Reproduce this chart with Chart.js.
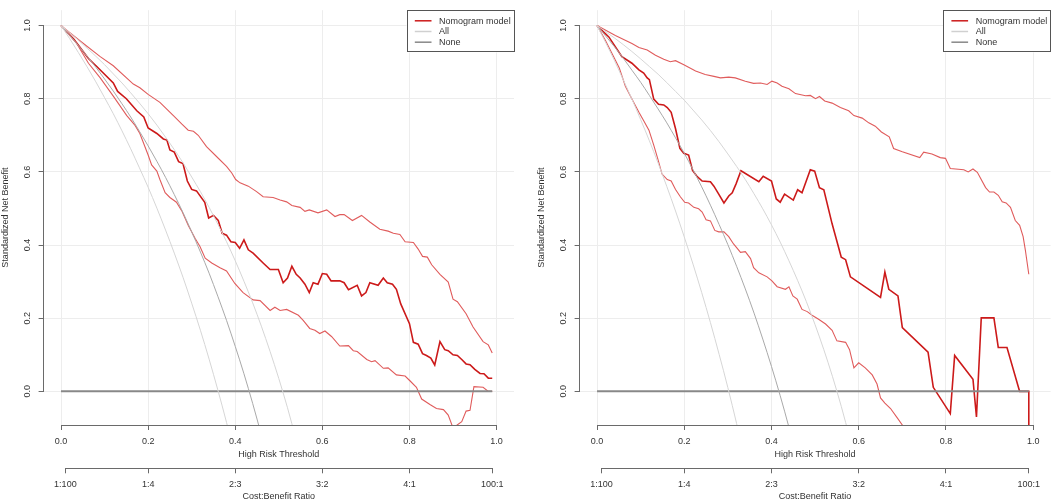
<!DOCTYPE html>
<html>
<head>
<meta charset="utf-8">
<script src="https://cdn.jsdelivr.net/npm/chart.js@4.4.1/dist/chart.umd.min.js"></script>
<style>
  html, body { margin: 0; padding: 0; background: #ffffff; }
  #wrap { position: relative; width: 1052px; height: 502px; overflow: hidden; }
  .panel { position: absolute; top: 0; width: 526px; height: 502px; }
</style>
</head>
<body>
<div id="wrap">
  <div class="panel" style="left:0"><canvas id="cLeft" width="526" height="502"></canvas></div>
  <div class="panel" style="left:526px"><canvas id="cRight" width="526" height="502"></canvas></div>
</div>
<script>
// ---------- tick labels / categories ----------
const thresholdTicks = [0, 0.2, 0.4, 0.6, 0.8, 1.0];
const netBenefitTicks = [0, 0.2, 0.4, 0.6, 0.8, 1.0];
const costBenefitPositions = [0.01, 0.2, 0.4, 0.6, 0.8, 0.99];
const costBenefitLabels = ['1:100', '1:4', '2:3', '3:2', '4:1', '100:1'];
const seriesNames = ['Nomogram model', 'All', 'None'];

// ---------- "All" curves (thresholds shared) ----------
const allThresholds = [0, 0.02, 0.04, 0.06, 0.08, 0.10, 0.12, 0.14, 0.16, 0.18, 0.20, 0.22, 0.24, 0.26, 0.28,
  0.30, 0.32, 0.34, 0.36, 0.38, 0.40, 0.42, 0.44, 0.46, 0.48, 0.50, 0.52, 0.54, 0.56, 0.58];

const leftAll     = [1, 0.973, 0.945, 0.916, 0.886, 0.854, 0.821, 0.786, 0.750, 0.711, 0.671, 0.629, 0.585, 0.538, 0.489,
  0.436, 0.381, 0.323, 0.260, 0.194, 0.123, 0.048, -0.033, -0.120, -0.214];
const leftAllLow  = [1, 0.964, 0.926, 0.887, 0.846, 0.803, 0.759, 0.712, 0.663, 0.611, 0.558, 0.501, 0.441, 0.378, 0.312,
  0.241, 0.167, 0.088, 0.004, -0.085, -0.180];
const leftAllHigh = [1, 0.980, 0.960, 0.938, 0.916, 0.893, 0.868, 0.843, 0.816, 0.788, 0.759, 0.728, 0.695, 0.661, 0.625,
  0.586, 0.546, 0.503, 0.457, 0.409, 0.357, 0.301, 0.242, 0.178, 0.109, 0.035, -0.045, -0.133];

const rightAll     = [1, 0.971, 0.942, 0.911, 0.878, 0.845, 0.809, 0.772, 0.734, 0.693, 0.651, 0.606, 0.559, 0.509, 0.456,
  0.401, 0.342, 0.280, 0.214, 0.143, 0.068, -0.012, -0.098, -0.191];
const rightAllLow  = [1, 0.953, 0.904, 0.852, 0.799, 0.743, 0.685, 0.624, 0.560, 0.493, 0.422, 0.348, 0.270, 0.188, 0.101,
  0.010, -0.088, -0.191];
const rightAllHigh = [1, 0.983, 0.966, 0.948, 0.929, 0.909, 0.888, 0.867, 0.844, 0.820, 0.796, 0.769, 0.742, 0.713, 0.682,
  0.649, 0.615, 0.579, 0.540, 0.499, 0.455, 0.408, 0.357, 0.303, 0.245, 0.182, 0.114, 0.040, -0.041, -0.130];

// ---------- "None" ----------
const noneCurve = [[0, 0], [0.99, 0]];

// ---------- Nomogram model curves: [threshold, standardized net benefit] ----------
const leftModel = [[0,1],[0.03,0.962],[0.063,0.91],[0.082,0.888],[0.12,0.843],[0.13,0.82],[0.15,0.80],[0.174,0.767],
  [0.19,0.75],[0.2,0.72],[0.22,0.705],[0.235,0.69],[0.243,0.687],[0.25,0.66],[0.26,0.654],[0.27,0.628],[0.28,0.623],
  [0.29,0.575],[0.30,0.552],[0.311,0.548],[0.33,0.517],[0.339,0.474],[0.35,0.481],[0.361,0.467],[0.37,0.432],
  [0.38,0.427],[0.39,0.409],[0.40,0.407],[0.41,0.391],[0.42,0.414],[0.43,0.387],[0.441,0.378],[0.464,0.351],
  [0.48,0.333],[0.499,0.333],[0.51,0.297],[0.52,0.31],[0.53,0.342],[0.54,0.32],[0.549,0.31],[0.56,0.293],[0.57,0.27],
  [0.579,0.297],[0.59,0.293],[0.60,0.322],[0.61,0.32],[0.62,0.302],[0.64,0.302],[0.65,0.297],[0.66,0.278],[0.68,0.29],
  [0.69,0.261],[0.70,0.27],[0.709,0.297],[0.728,0.29],[0.74,0.31],[0.749,0.297],[0.761,0.293],[0.77,0.279],
  [0.78,0.239],[0.80,0.185],[0.809,0.134],[0.82,0.129],[0.83,0.103],[0.839,0.098],[0.849,0.091],[0.858,0.072],
  [0.87,0.136],[0.881,0.114],[0.889,0.111],[0.90,0.10],[0.91,0.098],[0.92,0.087],[0.93,0.075],[0.939,0.073],
  [0.95,0.06],[0.962,0.049],[0.971,0.048],[0.981,0.036],[0.99,0.036]];
const leftModelHigh = [[0,1],[0.047,0.955],[0.09,0.915],[0.12,0.89],[0.166,0.84],[0.181,0.83],[0.2,0.812],[0.227,0.79],
  [0.258,0.754],[0.277,0.731],[0.292,0.714],[0.304,0.711],[0.315,0.70],[0.334,0.669],[0.357,0.642],[0.38,0.615],
  [0.392,0.597],[0.401,0.579],[0.411,0.57],[0.43,0.561],[0.449,0.546],[0.464,0.532],[0.487,0.53],[0.503,0.523],
  [0.518,0.518],[0.53,0.508],[0.549,0.503],[0.56,0.492],[0.57,0.496],[0.59,0.488],[0.61,0.496],[0.629,0.478],
  [0.64,0.483],[0.65,0.483],[0.669,0.467],[0.69,0.481],[0.709,0.463],[0.732,0.443],[0.751,0.438],[0.763,0.432],
  [0.778,0.429],[0.79,0.409],[0.809,0.407],[0.82,0.389],[0.83,0.369],[0.841,0.367],[0.851,0.346],[0.87,0.32],
  [0.889,0.299],[0.90,0.252],[0.91,0.245],[0.93,0.212],[0.946,0.176],[0.969,0.136],[0.981,0.127],[0.99,0.105]];
const leftModelLow = [[0,1],[0.036,0.951],[0.063,0.897],[0.09,0.857],[0.12,0.807],[0.151,0.754],[0.17,0.727],
  [0.181,0.705],[0.2,0.646],[0.208,0.619],[0.22,0.602],[0.227,0.579],[0.239,0.543],[0.25,0.53],[0.265,0.517],
  [0.277,0.494],[0.292,0.454],[0.308,0.418],[0.319,0.396],[0.331,0.364],[0.346,0.351],[0.365,0.338],[0.38,0.329],
  [0.399,0.295],[0.418,0.27],[0.441,0.25],[0.457,0.248],[0.48,0.221],[0.491,0.23],[0.503,0.221],[0.518,0.224],
  [0.545,0.208],[0.556,0.194],[0.571,0.172],[0.583,0.167],[0.594,0.158],[0.606,0.165],[0.621,0.15],[0.64,0.124],
  [0.66,0.125],[0.671,0.111],[0.68,0.109],[0.702,0.087],[0.713,0.081],[0.721,0.084],[0.74,0.063],[0.751,0.064],
  [0.77,0.045],[0.79,0.042],[0.801,0.029],[0.816,0.011],[0.828,-0.021],[0.847,-0.036],[0.862,-0.047],[0.878,-0.05],
  [0.889,-0.065],[0.90,-0.10],[0.92,-0.083],[0.93,-0.054],[0.939,-0.052],[0.948,0.013],[0.969,0.011],[0.981,0.0],
  [0.99,0.0]];

const rightModel = [[0,1],[0.027,0.969],[0.057,0.915],[0.08,0.897],[0.096,0.879],[0.107,0.87],[0.115,0.857],
  [0.12,0.852],[0.13,0.799],[0.141,0.785],[0.153,0.783],[0.161,0.776],[0.17,0.763],[0.18,0.718],[0.19,0.664],
  [0.199,0.651],[0.21,0.646],[0.219,0.604],[0.229,0.588],[0.241,0.575],[0.26,0.573],[0.268,0.561],[0.279,0.539],
  [0.291,0.515],[0.302,0.534],[0.31,0.543],[0.319,0.568],[0.33,0.603],[0.371,0.573],[0.381,0.588],[0.40,0.575],
  [0.411,0.526],[0.42,0.517],[0.43,0.539],[0.45,0.523],[0.46,0.551],[0.47,0.543],[0.489,0.606],[0.499,0.602],
  [0.51,0.557],[0.52,0.551],[0.539,0.458],[0.56,0.367],[0.57,0.36],[0.581,0.313],[0.65,0.257],[0.66,0.326],
  [0.669,0.279],[0.69,0.261],[0.70,0.174],[0.759,0.107],[0.771,0.011],[0.81,-0.061],[0.82,0.098],[0.862,0.033],
  [0.87,-0.07],[0.881,0.201],[0.91,0.201],[0.92,0.12],[0.94,0.12],[0.969,0.0],[0.99,0.0],[0.99,-0.3]];
const rightModelHigh = [[0,1],[0.042,0.973],[0.08,0.951],[0.096,0.94],[0.115,0.933],[0.134,0.919],[0.153,0.908],
  [0.168,0.901],[0.18,0.904],[0.199,0.893],[0.226,0.876],[0.248,0.866],[0.268,0.861],[0.283,0.857],[0.302,0.859],
  [0.317,0.857],[0.34,0.848],[0.359,0.842],[0.375,0.843],[0.39,0.839],[0.401,0.848],[0.413,0.843],[0.424,0.834],
  [0.44,0.827],[0.455,0.814],[0.478,0.808],[0.489,0.809],[0.501,0.80],[0.51,0.806],[0.522,0.794],[0.539,0.788],
  [0.558,0.776],[0.577,0.767],[0.589,0.754],[0.608,0.747],[0.623,0.734],[0.638,0.725],[0.652,0.709],[0.67,0.696],
  [0.68,0.664],[0.70,0.655],[0.74,0.639],[0.749,0.654],[0.768,0.649],[0.787,0.639],[0.799,0.637],[0.81,0.609],
  [0.841,0.606],[0.851,0.60],[0.862,0.608],[0.872,0.599],[0.891,0.557],[0.90,0.545],[0.91,0.545],[0.92,0.536],
  [0.929,0.518],[0.938,0.515],[0.948,0.503],[0.959,0.467],[0.969,0.454],[0.977,0.423],[0.982,0.387],[0.99,0.32]];
const rightModelLow = [[0,1],[0.019,0.96],[0.034,0.924],[0.051,0.884],[0.065,0.834],[0.08,0.799],[0.096,0.763],
  [0.107,0.74],[0.119,0.714],[0.13,0.673],[0.14,0.633],[0.149,0.594],[0.161,0.579],[0.17,0.575],[0.18,0.552],
  [0.191,0.532],[0.201,0.517],[0.21,0.515],[0.222,0.503],[0.233,0.499],[0.241,0.49],[0.25,0.469],[0.26,0.466],
  [0.27,0.44],[0.279,0.436],[0.291,0.436],[0.302,0.423],[0.313,0.403],[0.329,0.38],[0.34,0.382],[0.352,0.363],
  [0.359,0.338],[0.371,0.324],[0.39,0.313],[0.401,0.302],[0.413,0.286],[0.432,0.279],[0.44,0.286],[0.449,0.261],
  [0.459,0.252],[0.47,0.224],[0.482,0.218],[0.493,0.208],[0.508,0.197],[0.524,0.184],[0.539,0.167],[0.55,0.138],
  [0.57,0.134],[0.579,0.114],[0.589,0.064],[0.60,0.078],[0.615,0.064],[0.631,0.045],[0.642,0.02],[0.65,-0.018],
  [0.66,-0.032],[0.673,-0.047],[0.688,-0.072],[0.70,-0.092],[0.72,-0.13]];

// ---------- styling ----------
const RED = '#cc1a1a';
const RED_CI = '#e05c5c';
const GRAY_ALL = '#a9a9a9';
const GRAY_ALL_CI = '#d6d6d6';
const GRAY_ALL_LEGEND = '#d0d0d0';
const GRAY_NONE = '#888888';
const AXIS = '#6a6a6a';
const TEXT = '#333333';

Chart.defaults.font.family = "'Liberation Sans', Arial, Helvetica, sans-serif";
Chart.defaults.font.size = 9;
Chart.defaults.color = TEXT;

function pairs(list) { return list.map(p => ({ x: p[0], y: p[1] })); }
function grid(values) { return values.map((v, i) => ({ x: allThresholds[i], y: v })); }

function line(label, data, color, width, extra) {
  return Object.assign({
    label, data, borderColor: color, backgroundColor: color, borderWidth: width,
    pointRadius: 0, fill: false, tension: 0
  }, extra || {});
}

// R-style axis lines: from first to last tick
const rAxes = {
  id: 'rAxes',
  afterDraw(chart) {
    const ctx = chart.ctx;
    ctx.save();
    ctx.strokeStyle = AXIS;
    ctx.lineWidth = 1;
    ['x', 'x2', 'y'].forEach(id => {
      const s = chart.scales[id];
      const vals = s.ticks.map(t => t.value);
      const a = s.getPixelForValue(vals[0]);
      const b = s.getPixelForValue(vals[vals.length - 1]);
      ctx.beginPath();
      if (s.isHorizontal()) {
        const y = Math.round(s.top) + 0.5;
        ctx.moveTo(a, y); ctx.lineTo(b, y);
      } else {
        const x = Math.round(s.right) - 0.5;
        ctx.moveTo(x, a); ctx.lineTo(x, b);
      }
      ctx.stroke();
    });
    ctx.restore();
  }
};

// R-style legend in the top-right corner of the plot region
const rLegend = {
  id: 'rLegend',
  afterDatasetsDraw(chart) {
    const ctx = chart.ctx;
    const area = chart.chartArea;
    const entries = chart.data.datasets.filter(d => d.legendColor);
    const w = 107.5, h = 42.3;
    const left = area.right - w, top = area.top;
    ctx.save();
    ctx.fillStyle = '#ffffff';
    ctx.fillRect(left, top, w, h);
    ctx.strokeStyle = '#555555';
    ctx.lineWidth = 1;
    ctx.strokeRect(Math.round(left) + 0.5, Math.round(top) + 0.5, Math.round(w) - 1, Math.round(h) - 1);
    ctx.font = "9px 'Liberation Sans', Arial, sans-serif";
    ctx.textBaseline = 'middle';
    ctx.textAlign = 'left';
    entries.forEach((d, i) => {
      const y = top + 10.6 + i * 10.7;
      ctx.strokeStyle = d.legendColor;
      ctx.lineWidth = 1.5;
      ctx.beginPath();
      ctx.moveTo(left + 8.3, y); ctx.lineTo(left + 25, y);
      ctx.stroke();
      ctx.fillStyle = TEXT;
      ctx.fillText(d.label, left + 32.6, y + 0.5);
    });
    ctx.restore();
  }
};

function makeChart(canvasId, curves, padLeft, padRight) {
  const datasets = [
    line('All (low)', grid(curves.allLow), GRAY_ALL_CI, 1, { cubicInterpolationMode: 'monotone' }),
    line('All (high)', grid(curves.allHigh), GRAY_ALL_CI, 1, { cubicInterpolationMode: 'monotone' }),
    line(seriesNames[1], grid(curves.all), GRAY_ALL, 1, { cubicInterpolationMode: 'monotone' }),
    line(seriesNames[2], pairs(noneCurve), GRAY_NONE, 2),
    line('Nomogram (low)', pairs(curves.low), RED_CI, 1.1),
    line('Nomogram (high)', pairs(curves.high), RED_CI, 1.1),
    line(seriesNames[0], pairs(curves.model), RED, 1.6)
  ];
  // legend order: Nomogram model, All, None
  datasets[6].legendColor = RED;
  datasets[2].legendColor = GRAY_ALL_LEGEND;
  datasets[3].legendColor = GRAY_NONE;
  const ordered = [datasets[0], datasets[1], datasets[3], datasets[4], datasets[5], datasets[6], datasets[2]];
  // keep draw order: gray first, red on top; legend reads entries in label order below
  const chart = new Chart(document.getElementById(canvasId), {
    type: 'line',
    data: { datasets: [datasets[0], datasets[1], datasets[2], datasets[3], datasets[4], datasets[5], datasets[6]] },
    options: {
      responsive: false,
      animation: false,
      devicePixelRatio: 1,
      layout: { padding: { left: padLeft, right: padRight, top: 2.7, bottom: 0 } },
      plugins: { legend: { display: false }, tooltip: { enabled: false } },
      elements: { point: { radius: 0 } },
      scales: {
        x: {
          type: 'linear', position: 'bottom', weight: 0,
          min: -0.04, max: 1.04,
          afterBuildTicks: s => { s.ticks = thresholdTicks.map(v => ({ value: v })); },
          afterFit: s => { s.height = 43.3; },
          grid: { color: '#ededed', lineWidth: 1, drawTicks: true, tickLength: 5, tickColor: AXIS, tickWidth: 1 },
          border: { display: false },
          ticks: { padding: 6.3, maxRotation: 0, autoSkip: false, color: TEXT,
                   font: { size: 9, lineHeight: 1.2 }, callback: v => Number(v).toFixed(1) },
          title: { display: true, text: 'High Risk Threshold', color: TEXT,
                   font: { size: 9, lineHeight: 1 }, padding: { top: 0, bottom: 9.3 } }
        },
        x2: {
          type: 'linear', position: 'bottom', weight: 1,
          min: -0.04, max: 1.04,
          afterBuildTicks: s => { s.ticks = costBenefitPositions.map(v => ({ value: v })); },
          afterFit: s => { s.height = 33.7; },
          grid: { display: true, drawOnChartArea: false, drawTicks: true, tickLength: 5, tickColor: AXIS, tickWidth: 1 },
          border: { display: false },
          ticks: { padding: 5.6, maxRotation: 0, autoSkip: false, color: TEXT,
                   font: { size: 9, lineHeight: 1.2 },
                   callback: (v, i) => costBenefitLabels[i] },
          title: { display: true, text: 'Cost:Benefit Ratio', color: TEXT,
                   font: { size: 9, lineHeight: 1 }, padding: { top: 0, bottom: 0.8 } }
        },
        y: {
          type: 'linear', position: 'left',
          min: -0.092, max: 1.042,
          afterBuildTicks: s => { s.ticks = netBenefitTicks.map(v => ({ value: v })); },
          afterFit: s => { s.width = 43.6; },
          grid: { color: '#ededed', lineWidth: 1, drawTicks: true, tickLength: 5, tickColor: AXIS, tickWidth: 1 },
          border: { display: false },
          ticks: { padding: 4.8, minRotation: 90, maxRotation: 90, crossAlign: 'center', autoSkip: false,
                   color: TEXT, font: { size: 9, lineHeight: 1.2 }, callback: v => Number(v).toFixed(1) },
          title: { display: true, text: 'Standardized Net Benefit', color: TEXT,
                   font: { size: 9, lineHeight: 1 }, padding: { top: 1.5, bottom: 0 } }
        }
      }
    },
    plugins: [rAxes, rLegend]
  });
  // sort legend entries by desired order
  chart.data.datasets.forEach(d => {
    if (d.legendColor) d.legendOrder = seriesNames.indexOf(d.label);
  });
  return chart;
}

// legend entries must appear as: Nomogram model, All, None
const _origFilter = rLegend.afterDatasetsDraw;
rLegend.afterDatasetsDraw = function (chart) {
  const saved = chart.data.datasets;
  const withLegend = saved.filter(d => d.legendColor)
    .sort((a, b) => seriesNames.indexOf(a.label) - seriesNames.indexOf(b.label));
  const fake = { ctx: chart.ctx, chartArea: chart.chartArea, data: { datasets: withLegend } };
  _origFilter(fake);
};

makeChart('cLeft', { model: leftModel, high: leftModelHigh, low: leftModelLow,
  all: leftAll, allLow: leftAllLow, allHigh: leftAllHigh }, 0, 12);
makeChart('cRight', { model: rightModel, high: rightModelHigh, low: rightModelLow,
  all: rightAll, allLow: rightAllLow, allHigh: rightAllHigh }, 10, 1.4);
</script>
</body>
</html>
